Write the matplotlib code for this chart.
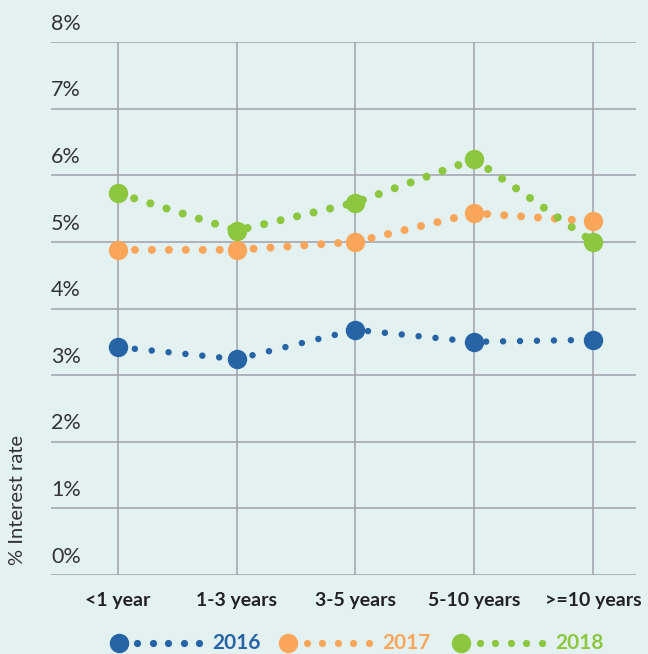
import matplotlib
matplotlib.use("Agg")
import matplotlib.pyplot as plt
import matplotlib.transforms as mtransforms

categories = ["<1 year", "1-3 years", "3-5 years", "5-10 years", ">=10 years"]
years = ["2016", "2017", "2018"]
rate_2016 = [3.42, 3.24, 3.68, 3.50, 3.53]
rate_2017 = [4.88, 4.88, 5.00, 5.43, 5.31]
rate_2018 = [5.73, 5.17, 5.59, 6.24, 5.00]
y_ticks = [0, 1, 2, 3, 4, 5, 6, 7, 8]

colors = {"2016": "#2764a6", "2017": "#f9a65b", "2018": "#8dc63f"}
series = {"2016": rate_2016, "2017": rate_2017, "2018": rate_2018}
dot_width = {"2016": 4.7, "2017": 5.8, "2018": 5.8}

bg = "#e3f2f1"
grid_col = "#a0a0ab"
font = "Lato"

fig = plt.figure(figsize=(6.48, 6.54), dpi=100, facecolor=bg)
ax = fig.add_axes([51 / 648, 79 / 654, 585 / 648, 533 / 654], facecolor=bg)

x = list(range(len(categories)))
ax.set_xlim(-0.564, 4.362)
ax.set_ylim(0, 8)

# gridlines by hand so the vertical ones stop at the 0-8% range
for v in y_ticks:
    ax.axhline(v, color=grid_col, lw=1.1, zorder=1)
for xi in x:
    ax.plot([xi, xi], [0, 8], color=grid_col, lw=1.1, zorder=1)

for yr in years:
    ax.plot(x, series[yr], color=colors[yr], lw=dot_width[yr],
            linestyle=(0, (0.001, 12.2 / dot_width[yr])),
            dash_capstyle="round", zorder=3)
    ax.plot(x, series[yr], linestyle="none", marker="o", markersize=14,
            color=colors[yr], markeredgewidth=0, zorder=4)

for s in ax.spines.values():
    s.set_visible(False)
ax.set_yticks([])
ax.set_xticks(x)
ax.set_xticklabels(categories, fontsize=14, fontweight="bold",
                   color="#222222", family=font)
ax.tick_params(axis="x", length=0, pad=12)

trans = mtransforms.blended_transform_factory(ax.transAxes, ax.transData)
for v in y_ticks:
    ax.annotate(f"{v}%", xy=(0, v), xycoords=trans, xytext=(0, 6),
                textcoords="offset points", ha="left", va="bottom",
                fontsize=15.5, color="#333333", family=font)

fig.text(18 / 648, 1 - 500 / 654, "% Interest rate", rotation=90,
         ha="center", va="center", fontsize=14.5, color="#333333",
         family=font)

# legend row: big dot, five small dots, year label
lg = fig.add_axes([0, 0, 1, 28 / 654])
lg.set_xlim(0, 648)
lg.set_ylim(0, 28)
lg.axis("off")
starts = {"2016": 118.5, "2017": 288, "2018": 461}
for yr in years:
    m = starts[yr]
    lg.plot([m], [11], marker="o", markersize=14, color=colors[yr],
            markeredgewidth=0, clip_on=False)
    lg.plot([m + 18.5 + 15.5 * k for k in range(5)], [11] * 5,
            linestyle="none", marker="o", markersize=5.2, color=colors[yr],
            markeredgewidth=0, clip_on=False)
    lg.text(m + 94, 11, yr, color=colors[yr], fontsize=15,
            fontweight="bold", family=font, va="center", ha="left")

fig.savefig("out.png", dpi=100, facecolor=bg)
